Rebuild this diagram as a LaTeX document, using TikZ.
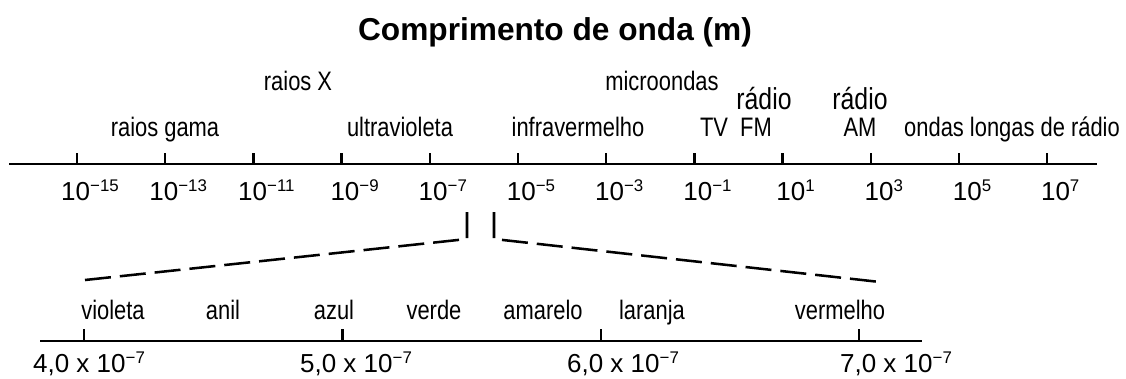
\documentclass[tikz,border=0pt]{standalone}
\usepackage{fontspec}
\setmainfont{Liberation Sans}
\newfontfamily\narrowfont[FakeStretch=0.82]{Liberation Sans}
\newcommand{\expo}[1]{\raisebox{6pt}{\fontsize{12}{12}\selectfont #1}}
\begin{document}
\begin{tikzpicture}[x=0.025cm, y=-0.025cm]
    \tikzstyle{every node}+=[inner sep=0pt]
    \tikzstyle{axis}=[black, line width=1.8pt]
    \tikzstyle{zoomline}=[black, line width=1.8pt, dash pattern=on 18.5pt off 6.4pt]
    \tikzstyle{band}=[anchor=base, font=\narrowfont\fontsize{19}{19}\selectfont]
    \tikzstyle{bigband}=[anchor=base, font=\narrowfont\fontsize{21.5}{21.5}\selectfont]
    \tikzstyle{num}=[anchor=base, font=\fontsize{18.5}{18.5}\selectfont]
    \useasboundingbox (0,0) rectangle (1126,378);
    % title
    \node [anchor=base, font=\bfseries\fontsize{22.5}{22.5}\selectfont] (title) at (555,40) {Comprimento de onda (m)};
    % main scale
    \coordinate (axL) at (9,164);
    \coordinate (axR) at (1097,164);
    \draw [axis] (axL) -- (axR);
    \foreach \e [count=\i from 0] in {−15,−13,−11,−9,−7,−5,−3,−1,1,3,5,7} {
        \coordinate (t\i) at (77+88.2*\i,164);
        \draw [axis] (t\i) -- ++(0,-11);
        \node [num] (p\i) at (90+88.2*\i,200) {10\expo{\e}};
    }
    % radiation names
    \node [band] (raiosx) at (298,90) {raios X};
    \node [band] (micro) at (662,90) {microondas};
    \node [bigband] (radfm) at (764,109) {rádio};
    \node [bigband] (radam) at (860,109) {rádio};
    \node [band] (gama) at (165,136) {raios gama};
    \node [band] (uv) at (400,136) {ultravioleta};
    \node [band] (ir) at (578,136) {infravermelho};
    \node [band] (tv) at (714,136) {TV};
    \node [band] (fm) at (756,136) {FM};
    \node [band] (am) at (860,136) {AM};
    \node [band] (longas) at (1012,136) {ondas longas de rádio};
    % zoom into the visible part
    \coordinate (zA) at (85,280);
    \coordinate (zB) at (467,239);
    \coordinate (zC) at (467,212);
    \coordinate (zD) at (494,212);
    \coordinate (zE) at (494,239);
    \coordinate (zF) at (880,282);
    \draw [zoomline] (zA) -- (zB) -- (zC);
    \draw [zoomline] (zD) -- (zE) -- (zF);
    % visible scale
    \coordinate (bL) at (40,341);
    \coordinate (bR) at (922,341);
    \draw [axis] (bL) -- (bR);
    \foreach \x/\c/\v/\n in {84/89/4/q4, 342.5/356/5/q5, 601/623/6/q6, 859/896/7/q7} {
        \draw [axis] (\x,341) -- (\x,329);
        \node [num] (\n) at (\c,372) {\v,0 x 10\expo{−7}};
    }
    \node [band] (violeta) at (113,319) {violeta};
    \node [band] (anil) at (223,319) {anil};
    \node [band] (azul) at (334,319) {azul};
    \node [band] (verde) at (434,319) {verde};
    \node [band] (amarelo) at (543,319) {amarelo};
    \node [band] (laranja) at (652,319) {laranja};
    \node [band] (vermelho) at (840,319) {vermelho};
\end{tikzpicture}
\end{document}
